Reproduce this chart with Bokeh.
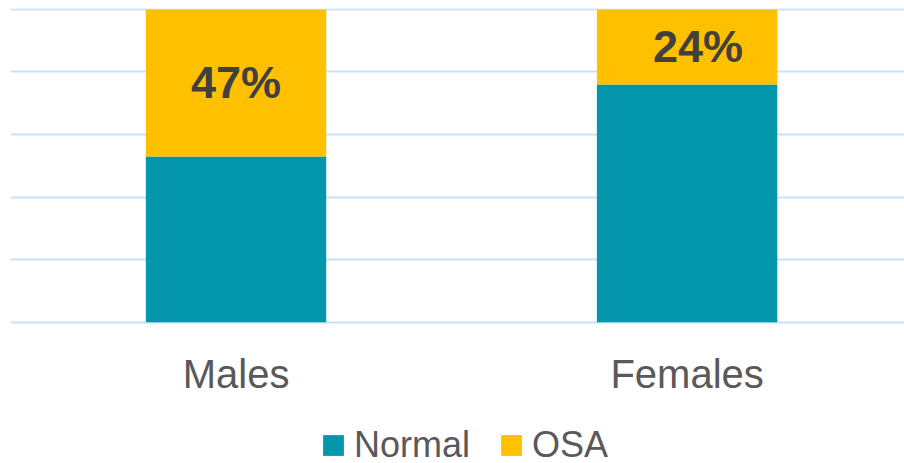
from bokeh.plotting import figure
from bokeh.models import ColumnDataSource, FixedTicker, Range1d, Legend, LegendItem
from bokeh.core.properties import value
from bokeh.embed import file_html
from bokeh.resources import INLINE

# ---- data ----
categories = ["Males", "Females"]
normal = [53, 76]
osa = [47, 24]
osa_labels = ["47%", "24%"]
y_ticks = [0, 20, 40, 60, 80, 100]

TEAL = "#0497AB"
GOLD = "#FFC000"
GRID = "#C6E4F7"
TXT = "#595959"
CAT_LABEL_Y = -16.6          # position of category labels (below the 0 line)
LABEL_DX = [0, 11]           # small horizontal nudge of value labels (px)

xs = [i + 0.5 for i in range(len(categories))]
label_y = [n + o / 2 for n, o in zip(normal, osa)]

src = ColumnDataSource(dict(x=xs, Normal=normal, OSA=osa, ly=label_y, lab=osa_labels,
                            dx=LABEL_DX, cat=categories, cy=[CAT_LABEL_Y] * len(xs)))

p = figure(width=904, height=463, output_backend="svg", toolbar_location=None,
           x_range=Range1d(0, 1.982), y_range=Range1d(-45.2, 100.29),
           x_axis_location=None, y_axis_location=None,
           min_border_left=10, min_border_right=0, min_border_top=8, min_border_bottom=0)
p.outline_line_color = None
p.background_fill_color = "white"
p.border_fill_color = "white"

rs = p.vbar_stack(["Normal", "OSA"], x="x", width=0.4, source=src,
                  color=[TEAL, GOLD], line_color=None)

# value labels
p.text(x="x", y="ly", text="lab", source=src, x_offset="dx",
       text_align="center", text_baseline="middle",
       text_font=value("Liberation Sans"), text_font_style="bold",
       text_font_size="45px", text_color="#404040")

# category labels
p.text(x="x", y="cy", text="cat", source=src, text_align="center", text_baseline="alphabetic",
       text_font=value("Liberation Sans"), text_font_size="40px", text_color=TXT)

p.xgrid.visible = False
p.ygrid.ticker = FixedTicker(ticks=y_ticks)
p.ygrid.grid_line_color = GRID
p.ygrid.grid_line_width = 2

legend = Legend(items=[LegendItem(label="Normal", renderers=[rs[0]]),
                       LegendItem(label="OSA", renderers=[rs[1]])],
                orientation="horizontal", location=(310, -3),
                glyph_width=26, glyph_height=26, label_standoff=8, spacing=28,
                label_text_font="Liberation Sans", label_text_font_size="36px",
                label_text_color=TXT, border_line_color=None, padding=0, margin=0,
                background_fill_alpha=0)
p.add_layout(legend, "center")

open("out.html", "w").write(file_html(p, INLINE))
